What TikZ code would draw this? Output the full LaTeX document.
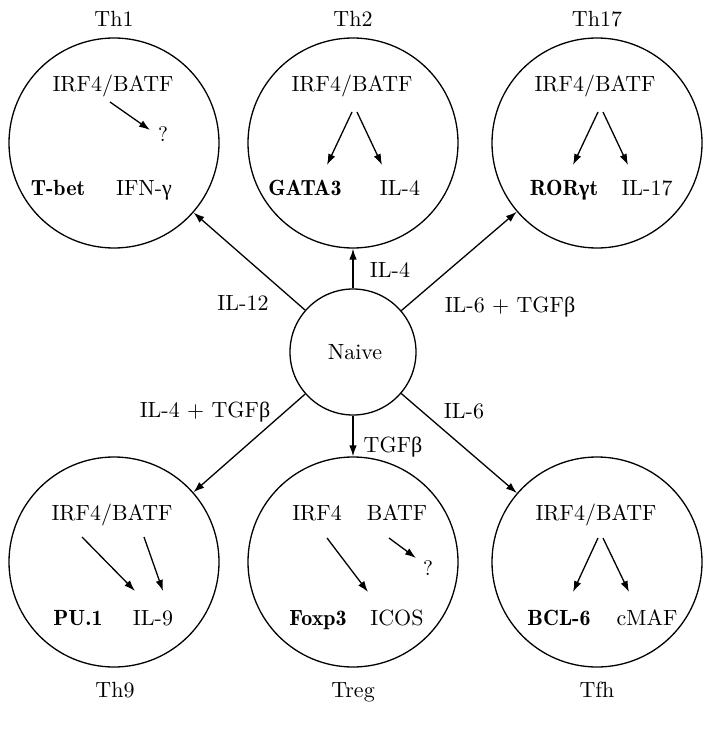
\documentclass[tikz,border=0pt]{standalone}
\usepackage{fontspec}
\setmainfont{lmroman10-regular.otf}[BoldFont=lmromandemi10-regular.otf,ItalicFont=lmroman10-italic.otf]
\newfontfamily\gk{Liberation Serif}
\usetikzlibrary{arrows.meta}
\begin{document}
\begin{tikzpicture}[x=1pt,y=-1pt,
  cell/.style={circle,draw,line width=1.3pt,minimum size=210pt,inner sep=0},
  naive/.style={circle,draw,line width=1.3pt,minimum size=126pt,inner sep=0},
  txt/.style={anchor=base,inner sep=0,font=\fontsize{22}{26}\selectfont},
  btxt/.style={txt,font=\fontsize{22}{26}\selectfont\bfseries},
  qm/.style={anchor=base,inner sep=0,font=\fontsize{21}{23}\selectfont},
  arr/.style={-{Latex[length=11pt,width=7.5pt]},line width=1.3pt},
]
\useasboundingbox (0,0) rectangle (711,730);
% cells
\node[cell] (th1) at (114,143) {};
\node[cell] (th2) at (353,143) {};
\node[cell] (th17) at (597,143) {};
\node[cell] (th9) at (114,562) {};
\node[cell] (treg) at (353,562) {};
\node[cell] (tfh) at (597,562) {};
\node[naive] (nv) at (353,352) {};
\node[txt] (nvl) at (355,359) {Naive};
% cell names
\node[txt] (l1) at (114,27) {Th1};
\node[txt] (l2) at (353,27) {Th2};
\node[txt] (l17) at (597,27) {Th17};
\node[txt] (l9) at (115,697) {Th9};
\node[txt] (lreg) at (353,697) {Treg};
\node[txt] (lfh) at (597,697) {Tfh};
% connectors
\draw[arr] (nv) -- (th1);
\draw[arr] (nv) -- (th2);
\draw[arr] (nv) -- (th17);
\draw[arr] (nv) -- (th9);
\draw[arr] (nv) -- (treg);
\draw[arr] (nv) -- (tfh);
\node[txt] (e1) at (243,310) {IL-12};
\node[txt] (e2) at (390,277) {IL-4};
\node[txt] (e3) at (510,312) {IL-6 + TGF{\gk β}};
\node[txt] (e4) at (205,417) {IL-4 + TGF{\gk β}};
\node[txt] (e5) at (393,452) {TGF{\gk β}};
\node[txt] (e6) at (464,418) {IL-6};
% Th1
\node[txt] (a1) at (113,92) {IRF4/BATF};
\node[qm] (q1) at (163,142) {?};
\node[btxt] (b1) at (58,196) {T-bet};
\node[txt] (c1) at (144,196) {IFN-{\gk γ}};
\coordinate (s1) at (110,102); \coordinate (t1) at (150,130);
\draw[arr] (s1) -- (t1);
% Th2
\node[txt] (a2) at (352,92) {IRF4/BATF};
\node[btxt] (b2) at (305,196) {GATA3};
\node[txt] (c2) at (400,196) {IL-4};
\coordinate (s2a) at (352,112); \coordinate (t2a) at (327,165);
\coordinate (s2b) at (357,112); \coordinate (t2b) at (382,165);
\draw[arr] (s2a) -- (t2a);
\draw[arr] (s2b) -- (t2b);
% Th17
\node[txt] (a3) at (595,92) {IRF4/BATF};
\node[btxt] (b3) at (564,196) {ROR{\gk\bfseries γ}t};
\node[txt] (c3) at (647,196) {IL-17};
\coordinate (s3a) at (598,112); \coordinate (t3a) at (573,165);
\coordinate (s3b) at (603,112); \coordinate (t3b) at (628,165);
\draw[arr] (s3a) -- (t3a);
\draw[arr] (s3b) -- (t3b);
% Th9
\node[txt] (a4) at (112,520) {IRF4/BATF};
\node[btxt] (b4) at (78,625) {PU.1};
\node[txt] (c4) at (153,625) {IL-9};
\coordinate (s4a) at (82,537); \coordinate (t4a) at (135,591);
\coordinate (s4b) at (144,537); \coordinate (t4b) at (163,591);
\draw[arr] (s4a) -- (t4a);
\draw[arr] (s4b) -- (t4b);
% Treg
\node[txt] (a5) at (317,520) {IRF4};
\node[txt] (a5b) at (397,520) {BATF};
\node[qm] (q5) at (428,575) {?};
\node[btxt] (b5) at (318,625) {Foxp3};
\node[txt] (c5) at (397,625) {ICOS};
\coordinate (s5a) at (327,538); \coordinate (t5a) at (368,592);
\coordinate (s5b) at (389,538); \coordinate (t5b) at (416,558);
\draw[arr] (s5a) -- (t5a);
\draw[arr] (s5b) -- (t5b);
% Tfh
\node[txt] (a6) at (596,520) {IRF4/BATF};
\node[btxt] (b6) at (559,625) {BCL-6};
\node[txt] (c6) at (647,625) {cMAF};
\coordinate (s6a) at (598,538); \coordinate (t6a) at (573,592);
\coordinate (s6b) at (603,538); \coordinate (t6b) at (629,592);
\draw[arr] (s6a) -- (t6a);
\draw[arr] (s6b) -- (t6b);
\end{tikzpicture}
\end{document}
